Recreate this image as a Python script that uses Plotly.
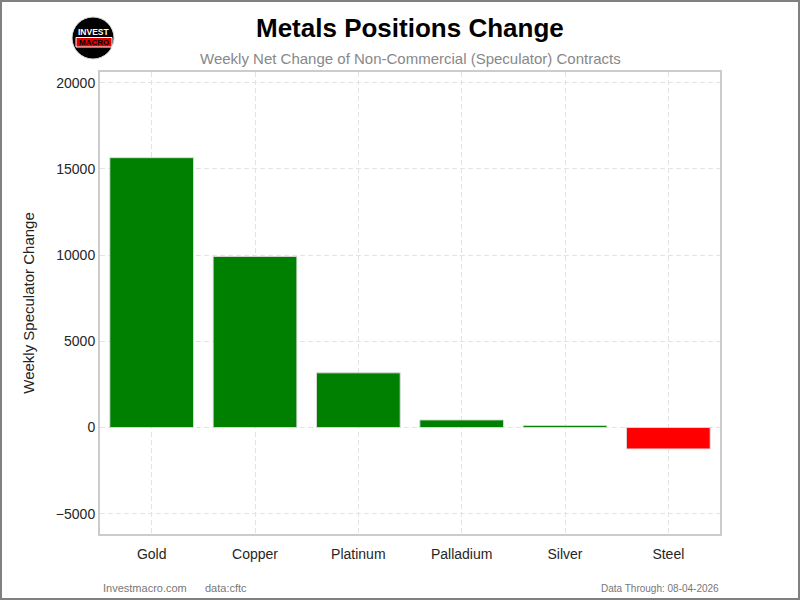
import plotly.graph_objects as go

metals = ["Gold", "Copper", "Platinum", "Palladium", "Silver", "Steel"]
weekly_change = [15650, 9920, 3170, 440, 115, -1240]

bar_colors = ["green" if v >= 0 else "red" for v in weekly_change]

# plot area in pixels: x 100..720, y 72..534
L, R, T, B = 100, 80, 72, 66
W, H = 800, 600
pw, ph = W - L - R, H - T - B


def px(x):
    return (x - L) / pw


def py(y):
    return (H - B - y) / ph


fig = go.Figure()
fig.add_trace(go.Bar(
    x=metals,
    y=weekly_change,
    width=0.81,
    marker=dict(color=bar_colors, line=dict(color="rgba(220,220,220,0.9)", width=1)),
))

font = "Liberation Sans, Arial, sans-serif"

fig.update_layout(
    width=W, height=H,
    margin=dict(l=L, r=R, t=T, b=B),
    plot_bgcolor="white",
    paper_bgcolor="white",
    showlegend=False,
    font=dict(family=font, color="#262626", size=14),
    xaxis=dict(
        range=[-0.5, 5.5],
        showgrid=True, gridcolor="#e3e3e3", griddash="5px,3px", gridwidth=1,
        showline=True, linecolor="#cccccc", linewidth=2, mirror=True,
        ticks="", tickfont=dict(size=14, color="#262626"),
        ticklabelstandoff=6,
        zeroline=False,
    ),
    yaxis=dict(
        range=[-6175, 20620],
        tickvals=[-5000, 0, 5000, 10000, 15000, 20000],
        ticktext=["\u22125000", "0", "5000", "10000", "15000", "20000"],
        showgrid=True, gridcolor="#e3e3e3", griddash="5px,3px", gridwidth=1,
        showline=True, linecolor="#cccccc", linewidth=2, mirror=True,
        ticks="", tickfont=dict(size=14, color="#262626"),
        zeroline=False,
        title=dict(text="Weekly Speculator Change", font=dict(size=15, color="#222222"), standoff=18),
    ),
)

# title and subtitle
fig.add_annotation(text="<b>Metals Positions Change</b>", x=px(410), y=py(28), xref="paper", yref="paper",
                   showarrow=False, font=dict(size=26, color="black", family=font), xanchor="center", yanchor="middle")
fig.add_annotation(text="Weekly Net Change of Non-Commercial (Speculator) Contracts", x=px(410), y=py(58),
                   xref="paper", yref="paper", showarrow=False,
                   font=dict(size=15, color="#888888", family=font), xanchor="center", yanchor="middle")

# footer
fig.add_annotation(text="Investmacro.com", x=px(101), y=py(588), xref="paper", yref="paper", showarrow=False,
                   font=dict(size=11, color="#777777", family=font), xanchor="left", yanchor="middle")
fig.add_annotation(text="data:cftc", x=px(203), y=py(588), xref="paper", yref="paper", showarrow=False,
                   font=dict(size=11, color="#777777", family=font), xanchor="left", yanchor="middle")
fig.add_annotation(text="Data Through: 08-04-2026", x=px(721), y=py(588), xref="paper", yref="paper",
                   showarrow=False, font=dict(size=10, color="#777777", family=font),
                   xanchor="right", yanchor="middle")

# logo
fig.add_shape(type="circle", xref="paper", yref="paper",
              x0=px(72), x1=px(114), y0=py(59), y1=py(17),
              fillcolor="black", line=dict(color="#dddddd", width=1))
fig.add_shape(type="rect", xref="paper", yref="paper",
              x0=px(76), x1=px(112), y0=py(47), y1=py(37.5),
              fillcolor="#e00000", line=dict(color="white", width=1))
fig.add_annotation(text="<b>INVEST</b>", x=px(93.5), y=py(31.5), xref="paper", yref="paper", showarrow=False,
                   font=dict(size=8.5, color="white", family=font), xanchor="center", yanchor="middle")
fig.add_annotation(text="<b>MACRO</b>", x=px(94), y=py(42.5), xref="paper", yref="paper", showarrow=False,
                   font=dict(size=8, color="black", family=font), xanchor="center", yanchor="middle")

# outer border
fig.add_shape(type="rect", xref="paper", yref="paper",
              x0=px(1), x1=px(799), y0=py(599), y1=py(1),
              line=dict(color="#808080", width=2), fillcolor="rgba(0,0,0,0)")

fig.write_html("out.html", config={"displayModeBar": False},
               post_script="document.body.style.margin='0px';")
